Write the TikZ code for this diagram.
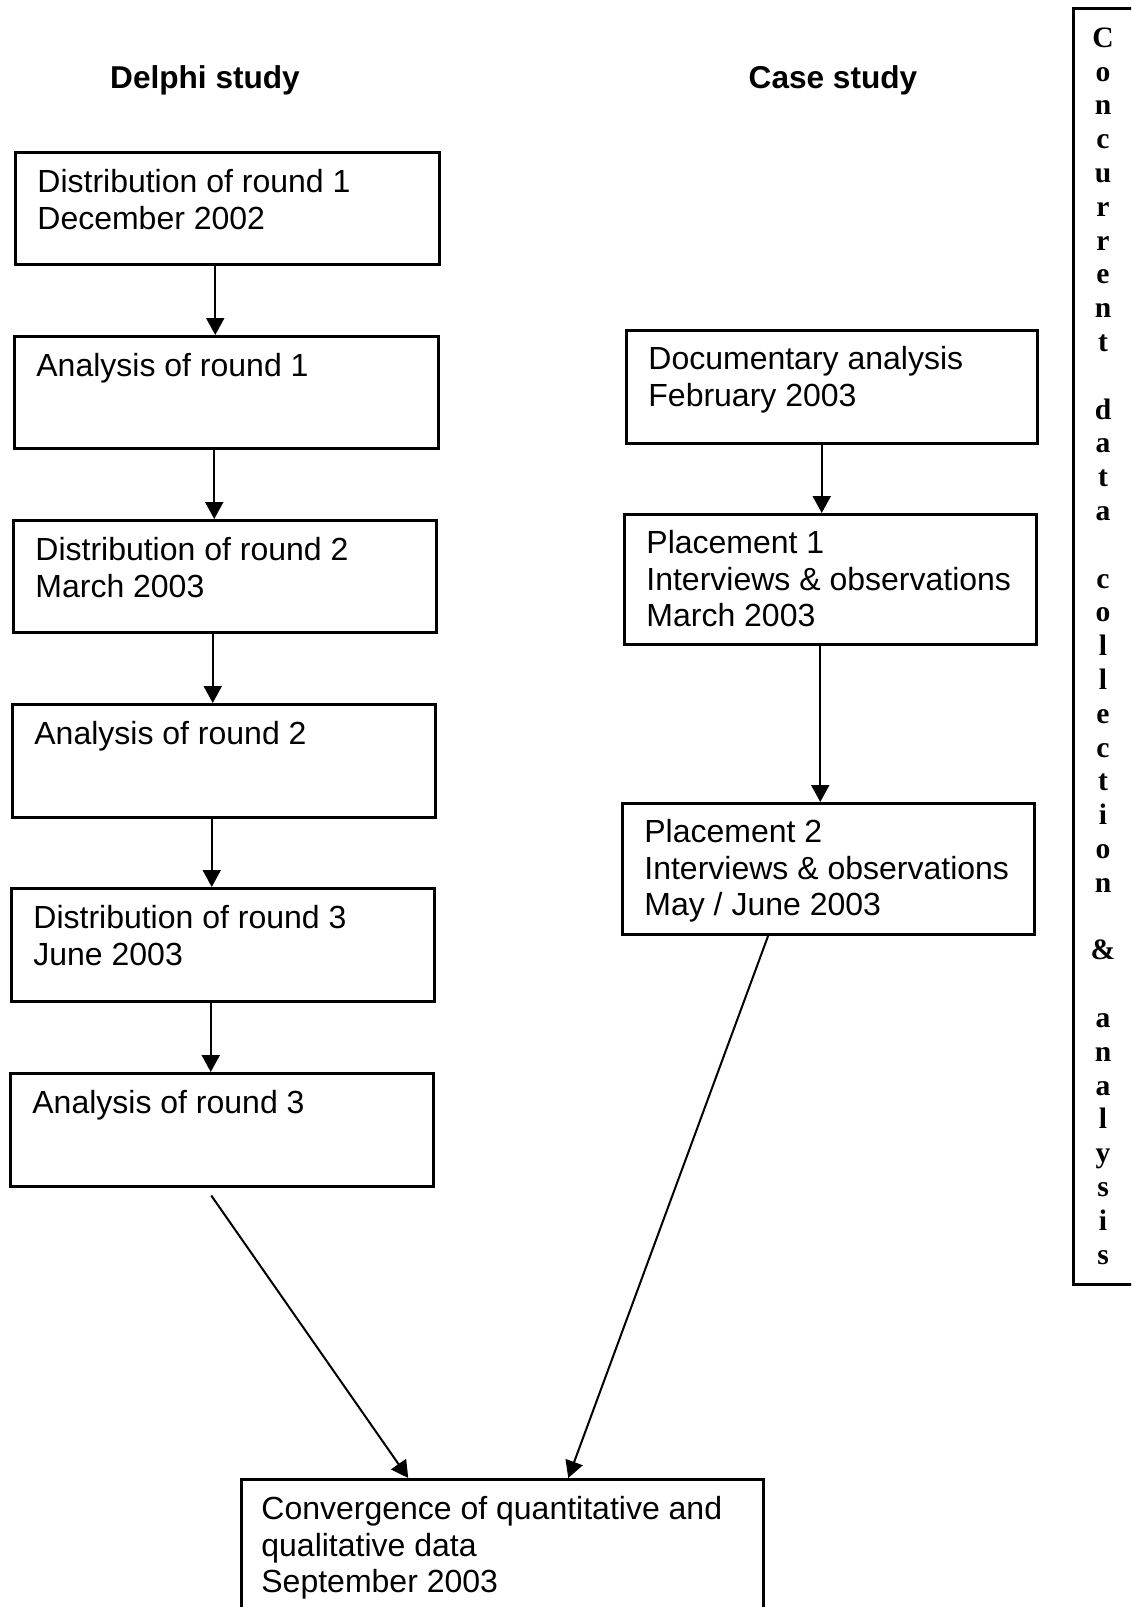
\documentclass[tikz,border=0pt]{standalone}
\usepackage{fontspec}
\setmainfont{Liberation Sans}
\newfontfamily\colfont{Liberation Serif}
\usetikzlibrary{arrows.meta}
\begin{document}
\begin{tikzpicture}[x=0.5pt,y=-0.5pt,
  frame/.style={draw, line width=1.25pt, inner sep=0pt, anchor=north west},
  txt/.style={anchor=north west, inner sep=0pt, align=left,
    font=\fontsize{16}{18.4}\selectfont},
  head/.style={anchor=base, inner sep=0pt, font=\fontsize{15.8}{18}\selectfont\bfseries},
  arr/.style={line width=1pt, -{Triangle[width=9pt,length=8.5pt]}}]
\path[use as bounding box] (0,0) rectangle (1131,1607);
\clip (0,0) rectangle (1131,1607);

% column headings
\node[head] (hd) at (205,88) {Delphi study};
\node[head] (hc) at (833,88) {Case study};

% Delphi study boxes
\node[frame, minimum width=212pt, minimum height=56pt] (d1) at (14,151) {};
\node[frame, minimum width=212pt, minimum height=56pt] (d2) at (13,335) {};
\node[frame, minimum width=211.5pt, minimum height=56pt] (d3) at (12,519) {};
\node[frame, minimum width=211.5pt, minimum height=56.5pt] (d4) at (11,703) {};
\node[frame, minimum width=211.5pt, minimum height=56.5pt] (d5) at (10,887) {};
\node[frame, minimum width=211.5pt, minimum height=56.5pt] (d6) at (9,1072) {};

% box texts: the strut fixes the first baseline below the node top
\node[txt] (d1t) at ([shift={(11.5pt,-7.6pt)}]d1.north west) {\strut Distribution of round 1\\December 2002};
\node[txt] (d2t) at ([shift={(11.5pt,-7.6pt)}]d2.north west) {\strut Analysis of round 1};
\node[txt] (d3t) at ([shift={(11.5pt,-7.6pt)}]d3.north west) {\strut Distribution of round 2\\March 2003};
\node[txt] (d4t) at ([shift={(11.5pt,-7.6pt)}]d4.north west) {\strut Analysis of round 2};
\node[txt] (d5t) at ([shift={(11.5pt,-7.6pt)}]d5.north west) {\strut Distribution of round 3\\June 2003};
\node[txt] (d6t) at ([shift={(11.5pt,-7.6pt)}]d6.north west) {\strut Analysis of round 3};

% Case study boxes
\node[frame, minimum width=205.5pt, minimum height=56.5pt] (r1) at (625,329) {};
\node[frame, minimum width=206pt, minimum height=65pt] (r2) at (623,513) {};
\node[frame, minimum width=206pt, minimum height=65.5pt] (r3) at (621,802) {};

\node[txt] (r1t) at ([shift={(11.5pt,-7.1pt)}]r1.north west) {\strut Documentary analysis\\February 2003};
\node[txt] (r2t) at ([shift={(11.5pt,-7.1pt)}]r2.north west) {\strut Placement 1\\Interviews \& observations\\March 2003};
\node[txt] (r3t) at ([shift={(11.5pt,-7.1pt)}]r3.north west) {\strut Placement 2\\Interviews \& observations\\May / June 2003};

% convergence box
\node[frame, minimum width=261pt, minimum height=70pt] (cv) at (240,1478) {};
\node[txt] (cvt) at ([shift={(10.5pt,-7.6pt)}]cv.north west) {\strut Convergence of quantitative and\\qualitative data\\September 2003};

% side column, one letter per line
\node[frame, minimum width=36pt, minimum height=638pt] (cc) at (1072,7) {};
\node[anchor=base, inner sep=0pt, align=center,
  font=\colfont\bfseries\fontsize{14.8}{16.9}\selectfont] (cl) at (1103,1264)
  {C\\o\\n\\c\\u\\r\\r\\e\\n\\t\\\mbox{}\\d\\a\\t\\a\\\mbox{}\\c\\o\\l\\l\\e\\c\\t\\i\\o\\n\\\mbox{}\\\&\\\mbox{}\\a\\n\\a\\l\\y\\s\\i\\s};

% connectors
\draw[arr] ([xshift=-6pt]d1.south) -- ([xshift=-6pt]d1.south |- d2.north);
\draw[arr] ([xshift=-6pt]d2.south) -- ([xshift=-6pt]d2.south |- d3.north);
\draw[arr] ([xshift=-6pt]d3.south) -- ([xshift=-6pt]d3.south |- d4.north);
\draw[arr] ([xshift=-6pt]d4.south) -- ([xshift=-6pt]d4.south |- d5.north);
\draw[arr] ([xshift=-6pt]d5.south) -- ([xshift=-6pt]d5.south |- d6.north);
\draw[arr] ([xshift=-5pt]r1.south) -- ([xshift=-5pt]r1.south |- r2.north);
\draw[arr] ([xshift=-5pt]r2.south) -- ([xshift=-5pt]r2.south |- r3.north);
\draw[arr] ([shift={(-5.25pt,-4pt)}]d6.south) -- ([xshift=-47pt]cv.north);
\draw[arr] ([xshift=-30pt]r3.south) -- ([xshift=33pt]cv.north);
\end{tikzpicture}
\end{document}
